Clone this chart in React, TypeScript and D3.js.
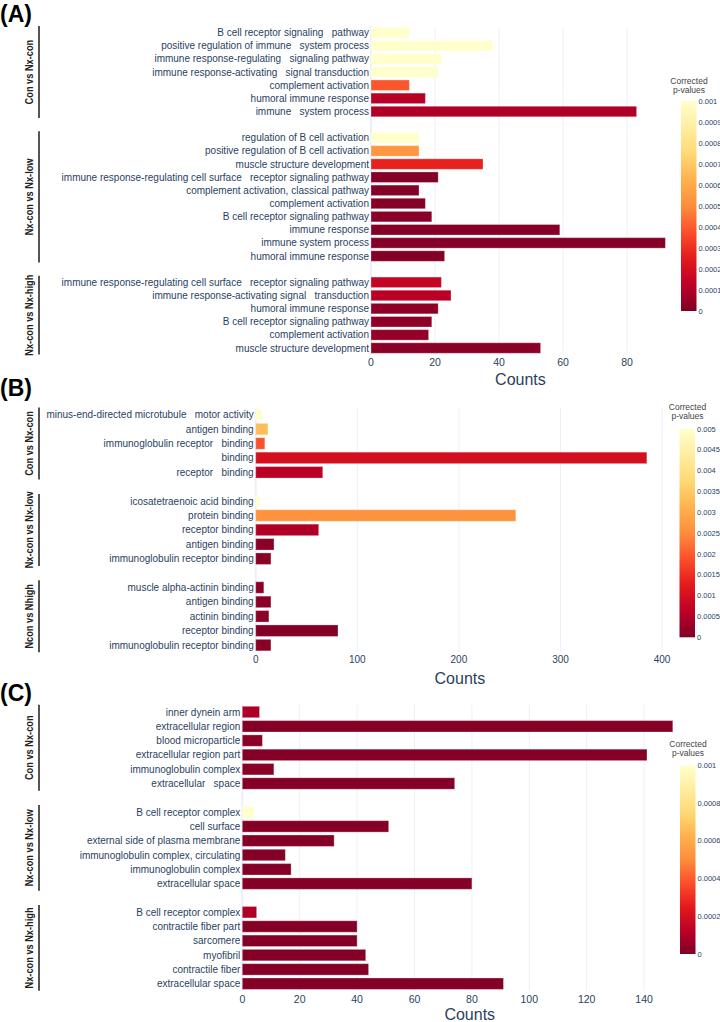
import React from "react";
import * as d3 from "d3";

// ---------- Panel A: biological process ----------
const aGroupNames = ["Con vs Nx-con", "Nx-con vs Nx-low", "Nx-con vs Nx-high"];
const aTerms1 = [
  "B cell receptor signaling   pathway",
  "positive regulation of immune   system process",
  "immune response-regulating   signaling pathway",
  "immune response-activating   signal transduction",
  "complement activation",
  "humoral immune response",
  "immune   system process",
];
const aCounts1 = [12, 38, 22, 21, 12, 17, 83];
const aPvals1 = [0.001, 0.001, 0.001, 0.001, 0.00039, 0.00011, 0.0001];
const aTerms2 = [
  "regulation of B cell activation",
  "positive regulation of B cell activation",
  "muscle structure development",
  "immune response-regulating cell surface   receptor signaling pathway",
  "complement activation, classical pathway",
  "complement activation",
  "B cell receptor signaling pathway",
  "immune response",
  "immune system process",
  "humoral immune response",
];
const aCounts2 = [15, 15, 35, 21, 15, 17, 19, 59, 92, 23];
const aPvals2 = [0.001, 0.00053, 0.00027, 0.00001, 0.00001, 0.00001, 0.00002, 0.00001, 0.00001, 0.00001];
const aTerms3 = [
  "immune response-regulating cell surface   receptor signaling pathway",
  "immune response-activating signal   transduction",
  "humoral immune response",
  "B cell receptor signaling pathway",
  "complement activation",
  "muscle structure development",
];
const aCounts3 = [22, 25, 21, 19, 18, 53];
const aPvals3 = [0.00015, 0.00012, 0.00003, 0.00003, 0.00004, 0.00002];
const aPvalMax = 0.001;

// ---------- Panel B: molecular function ----------
const bGroupNames = ["Con vs Nx-con", "Nx-con vs Nx-low", "Ncon vs Nhigh"];
const bTerms1 = [
  "minus-end-directed microtubule   motor activity",
  "antigen binding",
  "immunoglobulin receptor   binding",
  "binding",
  "receptor   binding",
];
const bCounts1 = [6, 12, 9, 385, 66];
const bPvals1 = [0.005, 0.0033, 0.0019, 0.001, 0.0006];
const bTerms2 = [
  "icosatetraenoic acid binding",
  "protein binding",
  "receptor binding",
  "antigen binding",
  "immunoglobulin receptor binding",
];
const bCounts2 = [4, 256, 62, 18, 15];
const bPvals2 = [0.005, 0.0026, 0.0005, 0.0001, 0.0001];
const bTerms3 = [
  "muscle alpha-actinin binding",
  "antigen binding",
  "actinin binding",
  "receptor binding",
  "immunoglobulin receptor binding",
];
const bCounts3 = [8, 15, 13, 81, 15];
const bPvals3 = [0.00012, 0.0001, 0.0001, 0.00003, 0.0001];
const bPvalMax = 0.005;

// ---------- Panel C: cellular component ----------
const cGroupNames = ["Con vs Nx-con", "Nx-con vs Nx-low", "Nx-con vs Nx-high"];
const cTerms1 = [
  "inner dynein arm",
  "extracellular region",
  "blood microparticle",
  "extracellular region part",
  "immunoglobulin complex",
  "extracellular   space",
];
const cCounts1 = [6, 150, 7, 141, 11, 74];
const cPvals1 = [0.00009, 0.00001, 0.00002, 0.00001, 0.00002, 0.00001];
const cTerms2 = [
  "B cell receptor complex",
  "cell surface",
  "external side of plasma membrane",
  "immunoglobulin complex, circulating",
  "immunoglobulin complex",
  "extracellular space",
];
const cCounts2 = [4, 51, 32, 15, 17, 80];
const cPvals2 = [0.001, 0.00001, 0.00001, 0.00001, 0.00001, 0.00001];
const cTerms3 = [
  "B cell receptor complex",
  "contractile fiber part",
  "sarcomere",
  "myofibril",
  "contractile fiber",
  "extracellular space",
];
const cCounts3 = [5, 40, 40, 43, 44, 91];
const cPvals3 = [0.0001, 0.00001, 0.00001, 0.00001, 0.00001, 0.00001];
const cPvalMax = 0.001;

// YlOrRd colour ramp (dark red at 0, pale yellow at the top of the bar)
const ylOrRd = [
  "rgb(128,0,38)", "rgb(189,0,38)", "rgb(227,26,28)", "rgb(252,78,42)",
  "rgb(253,141,60)", "rgb(254,178,76)", "rgb(254,217,118)", "rgb(255,237,160)",
  "rgb(255,255,204)",
];

const FONT = "'Liberation Sans', Arial, sans-serif";
const INK = "#2a3f5f";
const GRID = "#EBF0F8";

type Group = { name: string; terms: string[]; counts: number[]; pvals: number[] };

type PanelLayout = {
  tag: string;
  tagY: number;
  xDomain: [number, number];
  xRange: [number, number];
  xTicks: number;
  yRange: [number, number];
  tickBaseline: number;
  titleBaseline: number;
  tickSize: number;
  pMax: number;
  pTicks: number;
  bar: { x: number; y0: number; y1: number; titleY: number };
};

function Panel({ id, groups, layout }: { id: string; groups: Group[]; layout: PanelLayout }) {
  // one row per term plus one empty spacer row between groups
  const rows: { key: string; g: number; i: number }[] = [];
  groups.forEach((g, gi) => {
    if (gi > 0) rows.push({ key: `gap${gi}`, g: -1, i: -1 });
    g.terms.forEach((_, i) => rows.push({ key: `${gi}-${i}`, g: gi, i }));
  });

  const x = d3.scaleLinear().domain(layout.xDomain).range(layout.xRange);
  const y = d3
    .scaleBand<string>()
    .domain(rows.map((r) => r.key))
    .range(layout.yRange)
    .paddingInner(0.2)
    .paddingOuter(0.1);
  const step = y.step();
  const color = d3
    .scaleLinear<string>()
    .domain(ylOrRd.map((_, i) => (i / (ylOrRd.length - 1)) * layout.pMax))
    .range(ylOrRd)
    .interpolate(d3.interpolateRgb)
    .clamp(true);

  const cb = d3.scaleLinear().domain([0, layout.pMax]).range([layout.bar.y1, layout.bar.y0]);
  const fmt = d3.format("~g");
  const xt = x.ticks(layout.xTicks);
  const [top, bottom] = layout.yRange;
  const gradId = `grad-${id}`;
  const x0 = x(0);

  return (
    <g>
      <text x={0} y={layout.tagY} fontFamily={FONT} fontWeight="bold" fontSize={23} fill="#000">
        {layout.tag}
      </text>

      {/* vertical gridlines and zero line */}
      {xt.map((t) => (
        <line key={`g${t}`} x1={x(t)} x2={x(t)} y1={top} y2={bottom} stroke={GRID} strokeWidth={t === 0 ? 2 : 1} />
      ))}

      {/* bars */}
      {rows
        .filter((r) => r.g >= 0)
        .map((r) => {
          const g = groups[r.g];
          const c = color(g.pvals[r.i]);
          return (
            <rect
              key={r.key}
              x={x0}
              y={y(r.key)!}
              width={x(g.counts[r.i]) - x0}
              height={y.bandwidth()}
              fill={c}
              stroke="rgba(255,255,255,0.3)"
              strokeWidth={1}
            />
          );
        })}

      {/* category labels */}
      {rows
        .filter((r) => r.g >= 0)
        .map((r) => (
          <text
            key={`t${r.key}`}
            x={x0 - 2}
            y={y(r.key)! + y.bandwidth() / 2}
            dy="0.35em"
            textAnchor="end"
            fontFamily={FONT}
            fontSize={10}
            fill={INK}
            style={{ whiteSpace: "pre" }}
          >
            {groups[r.g].terms[r.i]}
          </text>
        ))}

      {/* group brackets */}
      {groups.map((g, gi) => {
        const first = y(`${gi}-0`)! + y.bandwidth() / 2 - step / 2;
        const last = y(`${gi}-${g.terms.length - 1}`)! + y.bandwidth() / 2 + step / 2;
        const mid = (first + last) / 2;
        return (
          <g key={`grp${gi}`}>
            <line x1={39} x2={39} y1={first} y2={last} stroke="#555" strokeWidth={2} />
            <text
              transform={`translate(29,${mid}) rotate(-90) scale(0.84,1)`}
              textAnchor="middle"
              dy="0.35em"
              fontFamily={FONT}
              fontWeight="bold"
              fontSize={11}
              fill="#222"
            >
              {g.name}
            </text>
          </g>
        );
      })}

      {/* x axis */}
      {xt.map((t) => (
        <text
          key={`xt${t}`}
          x={x(t)}
          y={layout.tickBaseline}
          textAnchor="middle"
          fontFamily={FONT}
          fontSize={layout.tickSize}
          fill={INK}
        >
          {t}
        </text>
      ))}
      <text
        x={(layout.xRange[0] + layout.xRange[1]) / 2}
        y={layout.titleBaseline}
        textAnchor="middle"
        fontFamily={FONT}
        fontSize={16}
        fill={INK}
      >
        Counts
      </text>

      {/* colour bar */}
      <defs>
        <linearGradient id={gradId} x1="0" y1="1" x2="0" y2="0">
          {ylOrRd.map((c, i) => (
            <stop key={i} offset={i / (ylOrRd.length - 1)} stopColor={c} />
          ))}
        </linearGradient>
      </defs>
      <text x={layout.bar.x + 8} y={layout.bar.titleY} textAnchor="middle" fontFamily={FONT} fontSize={8.5} fill="#444">
        Corrected
      </text>
      <text x={layout.bar.x + 8} y={layout.bar.titleY + 9} textAnchor="middle" fontFamily={FONT} fontSize={8.5} fill="#444">
        p-values
      </text>
      <rect
        x={layout.bar.x}
        y={layout.bar.y0}
        width={15.5}
        height={layout.bar.y1 - layout.bar.y0}
        fill={`url(#${gradId})`}
      />
      {cb.ticks(layout.pTicks).map((t) => (
        <text
          key={`cb${t}`}
          x={layout.bar.x + 17.5}
          y={cb(t)}
          dy="0.35em"
          fontFamily={FONT}
          fontSize={7.5}
          fill={INK}
        >
          {fmt(t)}
        </text>
      ))}
    </g>
  );
}

const panelA: Group[] = [
  { name: aGroupNames[0], terms: aTerms1, counts: aCounts1, pvals: aPvals1 },
  { name: aGroupNames[1], terms: aTerms2, counts: aCounts2, pvals: aPvals2 },
  { name: aGroupNames[2], terms: aTerms3, counts: aCounts3, pvals: aPvals3 },
];
const panelB: Group[] = [
  { name: bGroupNames[0], terms: bTerms1, counts: bCounts1, pvals: bPvals1 },
  { name: bGroupNames[1], terms: bTerms2, counts: bCounts2, pvals: bPvals2 },
  { name: bGroupNames[2], terms: bTerms3, counts: bCounts3, pvals: bPvals3 },
];
const panelC: Group[] = [
  { name: cGroupNames[0], terms: cTerms1, counts: cCounts1, pvals: cPvals1 },
  { name: cGroupNames[1], terms: cTerms2, counts: cCounts2, pvals: cPvals2 },
  { name: cGroupNames[2], terms: cTerms3, counts: cCounts3, pvals: cPvals3 },
];

const layoutA: PanelLayout = {
  tag: "(A)",
  tagY: 21.5,
  xDomain: [0, 93.4],
  xRange: [371, 371 + 93.4 * 3.2],
  xTicks: 5,
  yRange: [26.1, 354.6],
  tickBaseline: 365.5,
  titleBaseline: 385,
  tickSize: 10.5,
  pMax: aPvalMax,
  pTicks: 10,
  bar: { x: 681, y0: 101, y1: 311, titleY: 83.5 },
};
const layoutB: PanelLayout = {
  tag: "(B)",
  tagY: 396,
  xDomain: [0, 402],
  xRange: [255.7, 255.7 + 402 * 1.016],
  xTicks: 4,
  yRange: [407.5, 652.3],
  tickBaseline: 663,
  titleBaseline: 684,
  tickSize: 10,
  pMax: bPvalMax,
  pTicks: 10,
  bar: { x: 679.5, y0: 429, y1: 637.3, titleY: 409.5 },
};
const layoutC: PanelLayout = {
  tag: "(C)",
  tagY: 701,
  xDomain: [0, 158.5],
  xRange: [242.3, 242.3 + 158.5 * 2.87],
  xTicks: 8,
  yRange: [704.85, 990.85],
  tickBaseline: 1002.5,
  titleBaseline: 1020,
  tickSize: 10.5,
  pMax: cPvalMax,
  pTicks: 5,
  bar: { x: 680, y0: 765.3, y1: 954, titleY: 746.7 },
};

export default function App() {
  return (
    <svg
      width={720}
      height={1022}
      viewBox="0 0 720 1022"
      style={{ position: "absolute", left: 0, top: 0, background: "#fff" }}
    >
      <rect width={720} height={1022} fill="#fff" />
      <Panel id="a" groups={panelA} layout={layoutA} />
      <Panel id="b" groups={panelB} layout={layoutB} />
      <Panel id="c" groups={panelC} layout={layoutC} />
    </svg>
  );
}
